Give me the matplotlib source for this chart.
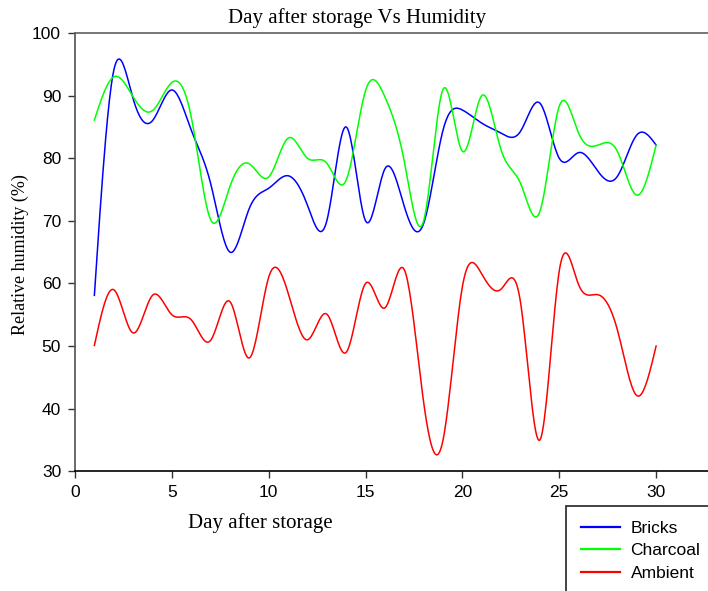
import numpy as np
import matplotlib
matplotlib.use('Agg')
import matplotlib.pyplot as plt
from matplotlib.patches import Rectangle

# daily readings
days = list(range(1, 31))
bricks = [58.1, 94.0, 89.5, 86.0, 90.9, 84.5, 76.0, 65.0, 72.0, 75.2,
          77.2, 72.5, 70.0, 85.0, 70.0, 78.3, 72.3, 69.6, 84.5, 87.7,
          85.6, 84.0, 84.3, 88.8, 80.0, 80.9, 77.9, 77.1, 83.7, 82.1]
charcoal = [86.1, 93.0, 89.8, 87.6, 92.1, 86.6, 70.2, 75.5, 79.1, 77.0,
            83.2, 80.0, 79.2, 76.5, 90.8, 89.8, 79.5, 70.0, 91.0, 81.1,
            90.0, 81.3, 76.0, 71.5, 88.3, 84.0, 82.1, 81.1, 74.1, 82.1]
ambient = [50.1, 59.0, 52.1, 58.1, 55.0, 54.2, 50.9, 57.1, 48.1, 61.0,
           58.5, 51.0, 55.1, 49.0, 60.0, 56.1, 62.2, 41.0, 35.0, 59.5,
           61.5, 59.1, 57.0, 35.0, 62.0, 59.8, 58.2, 52.6, 42.1, 50.0]

series = [('Bricks', bricks, '#0000ff'),
          ('Charcoal', charcoal, '#00ff00'),
          ('Ambient', ambient, '#ff0000')]


def natural_spline(x, y, n=600):
    # natural cubic spline, only used to draw the smooth curve
    x = np.asarray(x, float)
    y = np.asarray(y, float)
    k = len(x)
    h = np.diff(x)
    A = np.zeros((k, k))
    b = np.zeros(k)
    A[0, 0] = 1
    A[-1, -1] = 1
    for i in range(1, k - 1):
        A[i, i - 1] = h[i - 1]
        A[i, i] = 2 * (h[i - 1] + h[i])
        A[i, i + 1] = h[i]
        b[i] = 3 * ((y[i + 1] - y[i]) / h[i] - (y[i] - y[i - 1]) / h[i - 1])
    c = np.linalg.solve(A, b)
    xs = np.linspace(x[0], x[-1], n)
    idx = np.clip(np.searchsorted(x, xs) - 1, 0, k - 2)
    dx = xs - x[idx]
    bb = (y[idx + 1] - y[idx]) / h[idx] - h[idx] * (2 * c[idx] + c[idx + 1]) / 3
    dd = (c[idx + 1] - c[idx]) / (3 * h[idx])
    ys = y[idx] + bb * dx + c[idx] * dx ** 2 + dd * dx ** 3
    return xs, ys


fig = plt.figure(figsize=(7.08, 5.91), dpi=100)
ax = fig.add_axes([75 / 708, 1 - 471.3 / 591, 633 / 708, 438.3 / 591])

for name, vals, col in series:
    xs, ys = natural_spline(days, vals)
    ax.plot(xs, ys, color=col, lw=1.1, label=name)

ax.set_xlim(0, 633 / 19.37)
ax.set_ylim(30, 100)
ax.set_xticks(range(0, 31, 5))
ax.set_yticks(range(30, 101, 10))
ax.spines['right'].set_visible(False)
ax.spines['left'].set_color('#505050')
ax.spines['top'].set_color('#606060')
ax.spines['bottom'].set_color('black')
for s in ax.spines.values():
    s.set_linewidth(1.2)
ax.tick_params(direction='out', length=5, width=1, labelsize=12.5, pad=5,
               colors='#333333', labelcolor='black')
for lab in ax.get_xticklabels() + ax.get_yticklabels():
    lab.set_family('Liberation Sans')

serif = 'Liberation Serif'
fig.text(357 / 708, 1 - 18 / 591, 'Day after storage Vs Humidity',
         family=serif, fontsize=15, ha='center', va='center')
fig.text(260 / 708, 1 - 523 / 591, 'Day after storage',
         family=serif, fontsize=15, ha='center', va='center')
fig.text(20 / 708, 1 - 255 / 591, 'Relative humidity (%)',
         family=serif, fontsize=13, ha='center', va='center', rotation=90)

# legend box runs off the bottom-right of the figure
fig.patches.append(Rectangle((566 / 708, -0.1), 0.3, 0.1 + 1 - 506 / 591,
                             transform=fig.transFigure, fill=False,
                             edgecolor='#222222', lw=1.2))
leg = fig.legend(loc='upper left', bbox_to_anchor=(566 / 708, 1 - 506 / 591),
                 frameon=False, prop={'family': 'Liberation Sans', 'size': 12.5},
                 handlelength=2.27, handletextpad=0.6, borderpad=0.85,
                 labelspacing=0.42, borderaxespad=0)
for line in leg.get_lines():
    line.set_linewidth(1.6)

fig.savefig('out.png', dpi=100)
